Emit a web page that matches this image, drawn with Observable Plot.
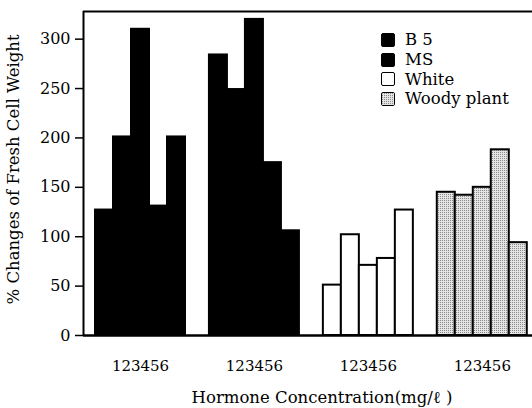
<!DOCTYPE html>
<html><head><meta charset="utf-8">
<script src="https://cdn.jsdelivr.net/npm/d3@7"></script>
<script src="https://cdn.jsdelivr.net/npm/@observablehq/plot@0.6"></script>
<style>
body{margin:0;background:#fff;}
#wrap{position:relative;width:532px;height:408px;}
#legend{position:absolute;left:381px;top:30px;font-family:"DejaVu Serif",serif;font-size:16.5px;color:#000;}
#legend .row{display:flex;align-items:center;height:19.7px;white-space:nowrap;}
#legend .sw{width:12px;height:12px;border:1.5px solid #000;border-radius:2px;margin-right:10px;box-sizing:content-box;}
</style></head><body><div id="wrap"><div id="legend"></div></div>
<script>
// Data
const series = ["B5", "MS", "White", "Woody plant"];
const legendLabels = ["B 5", "MS", "White", "Woody plant"];
const b5Values = [127, 201, 310, 131, 201];
const msValues = [284, 249, 320, 175, 106];
const whiteValues = [51, 102, 71, 78, 127];
const woodyValues = [145, 142, 150, 188, 94];
const groupTickLabels = ["123456", "123456", "123456", "123456"];
const yTicks = [0, 50, 100, 150, 200, 250, 300];
const xLabel = "Hormone Concentration(mg/ℓ )";
const yLabel = "% Changes of Fresh Cell Weight";

const allValues = [b5Values, msValues, whiteValues, woodyValues];
const step = 6.33; // group spacing in bar units
const rows = series.flatMap((s, g) => allValues[g].map((v, i) => ({series: s, group: g, conc: i, value: v})));
const tickPos = series.map((_, g) => g * step + 2.5);

const defs = () => {
  const d = d3.create("svg:defs");
  const p = d.append("pattern").attr("id", "woody").attr("patternUnits", "userSpaceOnUse")
    .attr("width", 2).attr("height", 2);
  p.append("rect").attr("width", 2).attr("height", 2).attr("fill", "#e4e4e4");
  p.append("rect").attr("width", 1).attr("height", 1).attr("fill", "#8a8a8a");
  return d.node();
};

const yTop = 328;
const xMin = -0.667, xMax = 24.28;

const chart = Plot.plot({
  width: 532,
  height: 408,
  marginLeft: 83,
  marginRight: 0,
  marginTop: 11,
  marginBottom: 73,
  style: {fontFamily: "DejaVu Serif, serif", fontSize: "15px", color: "#000", background: "#fff"},
  x: {domain: [xMin, xMax], axis: null},
  y: {domain: [0, yTop], axis: null},
  color: {type: "ordinal", domain: series, range: ["black", "black", "white", "url(#woody)"]},
  marks: [
    defs,
    Plot.rectY(rows, {x1: d => d.group * step + d.conc, x2: d => d.group * step + d.conc + 1, y1: 0, y2: "value", fill: "series", stroke: "black", strokeWidth: 2}),
    Plot.axisY({ticks: yTicks, tickSize: 8, tickPadding: 5, strokeWidth: 1.5, label: null, fontSize: 16}),
    Plot.axisX({ticks: tickPos, tickSize: 0, tickPadding: 25, tickFormat: (d, i) => groupTickLabels[i], label: null, fontSize: 15}),
    Plot.ruleX([xMin], {stroke: "black", strokeWidth: 2}),
    Plot.ruleY([yTop], {stroke: "black", strokeWidth: 2}),
    Plot.ruleY([0], {stroke: "black", strokeWidth: 2.5}),
    Plot.text([xLabel], {frameAnchor: "bottom", dx: 14, dy: 62, fontSize: 16.5, lineAnchor: "middle", textAnchor: "middle"}),
    Plot.text([yLabel], {frameAnchor: "left", rotate: -90, dx: -70, dy: -4, fontSize: 16.5, lineAnchor: "middle", textAnchor: "middle"})
  ]
});
document.getElementById("wrap").prepend(chart);

const color = chart.scale("color");
const leg = d3.select("#legend");
series.forEach((s, i) => {
  const c = color.apply(s);
  const row = leg.append("div").attr("class", "row");
  const sw = row.append("span").attr("class", "sw");
  if (c.startsWith("url")) {
    sw.append("svg").attr("width", 12).attr("height", 12).style("display", "block")
      .append("rect").attr("width", 12).attr("height", 12).attr("fill", c);
  } else {
    sw.style("background", c);
  }
  row.append("span").text(legendLabels[i]);
});
</script></body></html>
